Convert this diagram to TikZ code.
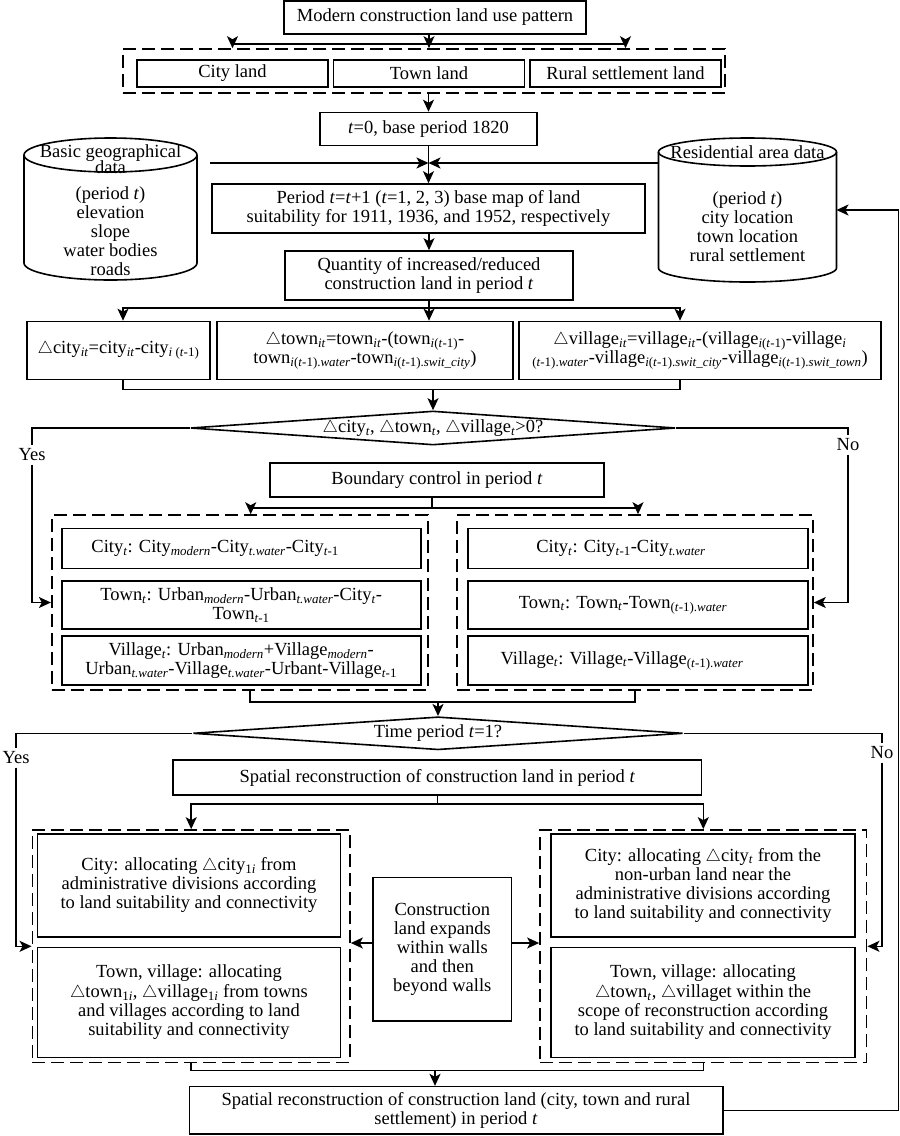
\documentclass[tikz,border=0pt]{standalone}
\usepackage{fontspec}
\setmainfont{Liberation Serif}
\usepackage{tikz}
\usetikzlibrary{
  arrows.meta,
  shapes.geometric,
  positioning,
  calc}
\newcommand{\sbt}[1]{\textsubscript{#1}}

\begin{document}
\begin{tikzpicture}[
      x=1pt, y=-1pt,
      every node/.style={
        font=\fontsize{18.5pt}{19pt}\selectfont
      },
      link/.style={
        line width=1.6pt
      },
      flow/.style={
        line width=1.6pt,
        -{Stealth[length=12pt,width=11pt,inset=3pt]}
      },
      block/.style={
        rectangle,
        draw,
        line width=1.6pt,
        align=center,
        inner sep=0pt,
      },
      land/.style={
        minimum width=191pt,
        minimum height=27pt,
      },
      fitted-box/.style={
        draw,
        rectangle,
        line width=1.6pt,
        dash pattern=on 13pt off 6pt,
        inner sep=0pt,
      },
      decision/.style={
        diamond,
        draw,
        line width=1.6pt,
        inner sep=0pt,
      },
    ]
    \useasboundingbox (0,0) rectangle (900,1136);
    \coordinate (pattern) at (435,17.5);
    \coordinate (t0) at (428.5,129);
    \coordinate (period) at (428.5,208.5);
    \coordinate (quantity) at (429,275.5);
    \coordinate (cond) at (433,428);
    \coordinate (bound) at (437,480);
    \coordinate (time) at (438,733.3);
    \coordinate (spatial) at (437.3,777.5);
    \coordinate (final) at (456,1110.3);
    % modern pattern
    \node[block, minimum width=302pt, minimum height=33pt] (pattern-node) at (pattern) {Modern construction land use pattern};
    \node[block, land] (city-land-node) at (232.5,73.5) {City land};
    \node[block, land] (town-land-node) at (429,73.5) {Town land};
    \node[block, land] (rural-land-node) at (625.5,73.5) {Rural settlement land};
    \node[fitted-box, minimum width=602pt, minimum height=44pt] (land-box) at (424,71) {};
    \draw[link] (pattern-node.south -| town-land-node) -- ++(0,9) coordinate (land-bus);
    \draw[flow] (land-bus) -| (city-land-node |- land-box.north);
    \draw[flow] (land-bus) -| (rural-land-node |- land-box.north);
    \draw[flow] (land-bus) -- (town-land-node |- land-box.north);
    \node[block, minimum width=217pt, minimum height=33pt] (t0-node) at (t0) {\textit{t}=0, base period 1820};
    \draw[flow] (land-box.south -| t0-node) -- (t0-node.north);
    \node[block, minimum width=433pt, minimum height=49pt] (period-node) at (period) {Period \textit{t}=\textit{t}+1 (\textit{t}=1, 2, 3) base map of land\\suitability for 1911, 1936, and 1952, respectively};
    \draw[flow] (t0-node) -- (period-node);
    % data cylinders
    \draw[link] (110.5,155) ellipse [x radius=86.5pt, y radius=17pt];
    \draw[link] (24,155) -- (24,263) arc [start angle=180, end angle=360, x radius=86.5pt, y radius=17pt] -- (197,155);
    \node[align=center] (geo-title-node) at (110.5,159) {Basic geographical\\[-2.5pt]data};
    \node[align=center] (geo-node) at (110.5,231.5) {(period \textit{t})\\elevation\\slope\\water bodies\\roads};
    \draw[link] (747.5,152) ellipse [x radius=89pt, y radius=14pt];
    \draw[link] (658.5,152) -- (658.5,268) arc [start angle=180, end angle=360, x radius=89pt, y radius=14pt] -- (836.5,152);
    \node (res-title-node) at (747.5,152) {Residential area data};
    \node[align=center] (res-node) at (747.5,227) {(period \textit{t})\\city location\\town location\\rural settlement};
    \coordinate (geo-out) at (210,163);
    \coordinate (res-out) at (658.5,163);
    \coordinate (res-in) at (836.5,210);
    \draw[flow] (geo-out) -- (geo-out -| t0-node.south);
    \draw[flow] (res-out) -- (res-out -| t0-node.south);
    % quantity
    \node[block, minimum width=288pt, minimum height=49pt] (quantity-node) at (quantity) {Quantity of increased/reduced\\construction land in period \textit{t}};
    \draw[flow] (period-node.south -| quantity-node) -- (quantity-node.north);
    \node[block, minimum width=183pt, minimum height=58pt] (dcity-node) at (118.5,350.5) {$\triangle$city\sbt{\textit{it}}=city\sbt{\textit{it}}-city\sbt{\textit{i} (\textit{t}-1)}};
    \node[block, minimum width=296pt, minimum height=58pt] (dtown-node) at (365,350.5) {$\triangle$town\sbt{\textit{it}}=town\sbt{\textit{it}}-(town\sbt{\textit{i}(\textit{t}-1)}-\\town\sbt{\textit{i}(\textit{t}-1).\textit{water}}-town\sbt{\textit{i}(\textit{t}-1).\textit{swit\_city}})};
    \node[block, minimum width=362pt, minimum height=58pt] (dvillage-node) at (700,350.5) {$\triangle$village\sbt{\textit{it}}=village\sbt{\textit{it}}-(village\sbt{\textit{i}(\textit{t}-1)}-village\sbt{\textit{i}}\\\sbt{(\textit{t}-1).\textit{water}}-village\sbt{\textit{i}(\textit{t}-1).\textit{swit\_city}}-village\sbt{\textit{i}(\textit{t}-1).\textit{swit\_town}})};
    \draw[link] (quantity-node.south) -- ++(0,7) coordinate (delta-bus);
    \draw[flow] (delta-bus) -| ([xshift=4.5pt]dcity-node.north);
    \draw[flow] (delta-bus) -| ([xshift=-20pt]dvillage-node.north);
    \draw[flow] (delta-bus) -- (delta-bus |- dtown-node.north);
    \draw[link] ([xshift=4.5pt]dcity-node.south) -- ++(0,9) coordinate (cond-bus) -| ([xshift=-20pt]dvillage-node.south);
    % first decision
    \node[decision, minimum width=485pt, minimum height=34pt, aspect=14.3] (cond-node) at (cond) {$\triangle$city\sbt{\textit{t}}, $\triangle$town\sbt{\textit{t}}, $\triangle$village\sbt{\textit{t}}>0?};
    \draw[flow] (cond-bus -| cond-node.north) -- (cond-node.north);
    \node[block, minimum width=334pt, minimum height=34pt] (bound-node) at (bound) {Boundary control in period \textit{t}};
    \node[fitted-box, minimum width=376pt, minimum height=175pt] (bound-left-box) at (239.7,602.5) {};
    \node[fitted-box, minimum width=356pt, minimum height=175pt] (bound-right-box) at (635,602.5) {};
    \node[block, minimum width=359pt, minimum height=40pt] (bcity-a-node) at (241.2,548.3) {City\sbt{\textit{t}}: City\sbt{\textit{modern}}-City\sbt{\textit{t.water}}-City\sbt{\textit{t}-1}\hspace*{52pt}};
    \node[block, minimum width=359pt, minimum height=48pt] (btown-a-node) at (241.2,605) {Town\sbt{\textit{t}}: Urban\sbt{\textit{modern}}-Urban\sbt{\textit{t.water}}-City\sbt{\textit{t}}-\\Town\sbt{\textit{t}-1}};
    \node[block, minimum width=359pt, minimum height=49pt] (bvillage-a-node) at (241.2,660.5) {Village\sbt{\textit{t}}: Urban\sbt{\textit{modern}}+Village\sbt{\textit{modern}}-\\Urban\sbt{\textit{t.water}}-Village\sbt{\textit{t.water}}-Urbant-Village\sbt{\textit{t}-1}};
    \node[block, minimum width=340pt, minimum height=40pt] (bcity-b-node) at (638,548.3) {City\sbt{\textit{t}}: City\sbt{\textit{t}-1}-City\sbt{\textit{t.water}}\hspace*{34pt}};
    \node[block, minimum width=340pt, minimum height=48pt] (btown-b-node) at (638,605) {Town\sbt{\textit{t}}: Town\sbt{\textit{t}}-Town\sbt{(\textit{t}-1).\textit{water}}\hspace*{30pt}};
    \node[block, minimum width=340pt, minimum height=49pt] (bvillage-b-node) at (638,660.5) {Village\sbt{\textit{t}}: Village\sbt{\textit{t}}-Village\sbt{(\textit{t}-1).\textit{water}}\hspace*{32pt}};
    \node (yes-a-node) at (32,455) {Yes};
    \node (no-a-node) at (848,445) {No};
    \draw[link] (cond-node.west) -| (yes-a-node.north);
    \draw[flow] (yes-a-node.south) |- (bound-left-box.west);
    \draw[link] (cond-node.east) -| (no-a-node.north);
    \draw[flow] (no-a-node.south) |- (bound-right-box.east);
    \draw[link] ([xshift=-5pt]bound-node.south) -- ++(0,10) coordinate (bound-bus);
    \draw[flow] (bound-bus) -| ([xshift=11pt]bound-left-box.north);
    \draw[flow] (bound-bus) -| ([xshift=3pt]bound-right-box.north);
    \draw[link] ([xshift=10pt]bound-left-box.south) -- ++(0,11) coordinate (time-bus) -| (bound-right-box.south);
    % second decision
    \node[decision, minimum width=490pt, minimum height=33pt, aspect=14.8] (time-node) at (time) {Time period \textit{t}=1?};
    \draw[flow] (time-bus -| time-node.north) -- (time-node.north);
    \node[block, minimum width=528.7pt, minimum height=35pt] (spatial-node) at (spatial) {Spatial reconstruction of construction land in period \textit{t}};
    \node[fitted-box, minimum width=317.7pt, minimum height=232.7pt] (spatial-left-box) at (191.2,946.3) {};
    \node[fitted-box, minimum width=326.7pt, minimum height=232.7pt] (spatial-right-box) at (703.3,946.3) {};
    \node[block, minimum width=303pt, minimum height=103pt] (scity-a-node) at (189,885.3) {City: allocating $\triangle$city\sbt{1\textit{i}} from\\administrative divisions according\\to land suitability and connectivity};
    \node[block, minimum width=303pt, minimum height=110pt] (stown-a-node) at (189,1002.5) {Town, village: allocating\\[1pt]$\triangle$town\sbt{1\textit{i}}, $\triangle$village\sbt{1\textit{i}} from towns\\and villages according to land\\suitability and connectivity};
    \node[block, minimum width=304pt, minimum height=103pt] (scity-b-node) at (703,885.3) {City: allocating $\triangle$city\sbt{\textit{t}} from the\\non-urban land near the\\administrative divisions according\\to land suitability and connectivity};
    \node[block, minimum width=304pt, minimum height=110pt] (stown-b-node) at (703,1002.5) {Town, village: allocating\\[1pt]$\triangle$town\sbt{\textit{t}}, $\triangle$villaget within the\\scope of reconstruction according\\to land suitability and connectivity};
    \node[block, minimum width=138.7pt, minimum height=143.4pt] (walls-node) at (442.3,949) {Construction\\land expands\\within walls\\and then\\beyond walls};
    \node (yes-b-node) at (16,758) {Yes};
    \node (no-b-node) at (882,753) {No};
    \draw[link] (time-node.west) -| (yes-b-node.north);
    \draw[flow] (yes-b-node.south) |- (spatial-left-box.west);
    \draw[link] (time-node.east) -| (no-b-node.north);
    \draw[flow] (no-b-node.south) |- (spatial-right-box.east);
    \draw[link] (spatial-node.south) -- ++(0,8) coordinate (spatial-bus);
    \draw[flow] (spatial-bus) -| (spatial-left-box.north);
    \draw[flow] (spatial-bus) -| (spatial-right-box.north);
    \draw[flow] ([yshift=6pt]walls-node.west) -- ([yshift=6pt]walls-node.west -| spatial-left-box.east);
    \draw[flow] ([yshift=6pt]walls-node.east) -- ([yshift=6pt]walls-node.east -| spatial-right-box.west);
    \draw[link] (spatial-left-box.south) -- ++(0,7) coordinate (final-bus) -| (spatial-right-box.south);
    % final output and feedback
    \node[block, minimum width=533.4pt, minimum height=47.3pt] (final-node) at (final) {Spatial reconstruction of construction land (city, town and rural\\settlement) in period \textit{t}};
    \draw[flow] ([xshift=-21pt]final-node.north |- final-bus) -- ([xshift=-21pt]final-node.north);
    \draw[flow] (final-node.east) -- ++(175,0) |- (res-in);
  \end{tikzpicture}
\end{document}
